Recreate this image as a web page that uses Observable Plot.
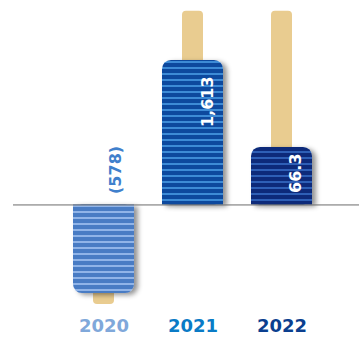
<!DOCTYPE html>
<html><head><meta charset="utf-8">
<script src="https://cdn.jsdelivr.net/npm/d3@7"></script>
<script src="https://cdn.jsdelivr.net/npm/@observablehq/plot@0.6"></script>
<style>
html,body{margin:0;padding:0;background:#fff;}
#chart svg{display:block;}
</style>
</head><body><div id="chart"></div>
<script>
// ---- data ----
const years = ["2020", "2021", "2022"];
const valueLabels = ["(578)", "1,613", "66.3"];
// visual bar length, relative (2021 bar = 100); the infographic does not share one scale
const barLengths = [-61.3, 100, 39.8];
// popsicle stick end, same relative units
const stickEnds = [-68.9, 134, 134];

// ---- styles ----
const stripeDark = {"2020": "#4a7bc4", "2021": "#0b4a9e", "2022": "#08297a"};
const stripeLight = {"2020": "#90b4e8", "2021": "#3d8bd6", "2022": "#2d5fb6"};
const yearColor = {"2020": "#80a8da", "2021": "#0a7bc6", "2022": "#0b3f8f"};
const stickColor = "#e9cc90";

const data = years.map((year, i) => ({year, label: valueLabels[i], len: barLengths[i], stick: stickEnds[i]}));
const pat = d => `url(#stripes-${d.year})`;

const labelStyle = {rotate: -90, fontSize: 16, fontWeight: "bold", text: "label", x: "year"};

const chart = Plot.plot({
  width: 359,
  height: 342,
  marginLeft: 13, marginRight: 0, marginTop: 0, marginBottom: 0,
  style: {fontFamily: "DejaVu Sans", background: "#fff"},
  x: {type: "band", domain: years, padding: 0.32, insetLeft: 30, insetRight: 18, axis: null},
  y: {domain: [-95.2, 141.5], axis: null},
  color: {type: "identity"},
  marks: [
    Plot.barY(data, {x: "year", y1: 0, y2: "stick", insetLeft: 20, insetRight: 20, rx: 4, fill: stickColor}),
    Plot.barY(data, {x: "year", y1: 0, y2: "len", rx: 9, fill: pat}),
    Plot.barY(data, {x: "year", y1: 0, y2: d => Math.sign(d.len) * 10, fill: pat}),
    Plot.ruleY([0], {stroke: "#6b6b6b", strokeWidth: 1}),
    Plot.text(data.filter(d => d.len < 0), {...labelStyle, y: 0, textAnchor: "start", dy: -11, dx: 12, fill: "#3f80cc"}),
    Plot.text(data.filter(d => d.year === "2021"), {...labelStyle, y: "len", textAnchor: "end", dy: 16, dx: 15, fill: "#fff"}),
    Plot.text(data.filter(d => d.year === "2022"), {...labelStyle, y: "len", textAnchor: "end", dy: 6, dx: 13.5, fill: "#fff"}),
    Plot.text(data, {x: "year", text: "year", frameAnchor: "bottom", dy: -11, fontSize: 18, fontWeight: "bold", fill: d => yearColor[d.year]})
  ]
});

// stripe patterns + shadow filter
const NS = "http://www.w3.org/2000/svg";
const defs = document.createElementNS(NS, "defs");
for (const y of years) {
  const p = document.createElementNS(NS, "pattern");
  p.setAttribute("id", `stripes-${y}`);
  p.setAttribute("patternUnits", "userSpaceOnUse");
  p.setAttribute("width", 8); p.setAttribute("height", 6);
  const r1 = document.createElementNS(NS, "rect");
  r1.setAttribute("width", 8); r1.setAttribute("height", 6); r1.setAttribute("fill", stripeDark[y]);
  const r2 = document.createElementNS(NS, "rect");
  r2.setAttribute("y", 1); r2.setAttribute("width", 8); r2.setAttribute("height", 2); r2.setAttribute("fill", stripeLight[y]);
  p.appendChild(r1); p.appendChild(r2);
  defs.appendChild(p);
}
const f = document.createElementNS(NS, "filter");
f.setAttribute("id", "barShadow");
f.setAttribute("x", "-20%"); f.setAttribute("y", "-20%"); f.setAttribute("width", "150%"); f.setAttribute("height", "140%");
const ds = document.createElementNS(NS, "feDropShadow");
ds.setAttribute("dx", 4); ds.setAttribute("dy", 2); ds.setAttribute("stdDeviation", 2.5);
ds.setAttribute("flood-color", "#000"); ds.setAttribute("flood-opacity", 0.42);
f.appendChild(ds);
defs.appendChild(f);
chart.insertBefore(defs, chart.firstChild);

const groups = [...new Set([...chart.querySelectorAll('rect[fill^="url"]')].map(r => r.parentNode))];
if (groups.length) {
  const wrap = document.createElementNS(NS, "g");
  wrap.setAttribute("filter", "url(#barShadow)");
  groups[0].parentNode.insertBefore(wrap, groups[0]);
  groups.forEach(g => wrap.appendChild(g));
}

document.getElementById("chart").appendChild(chart);
</script>
</body></html>
